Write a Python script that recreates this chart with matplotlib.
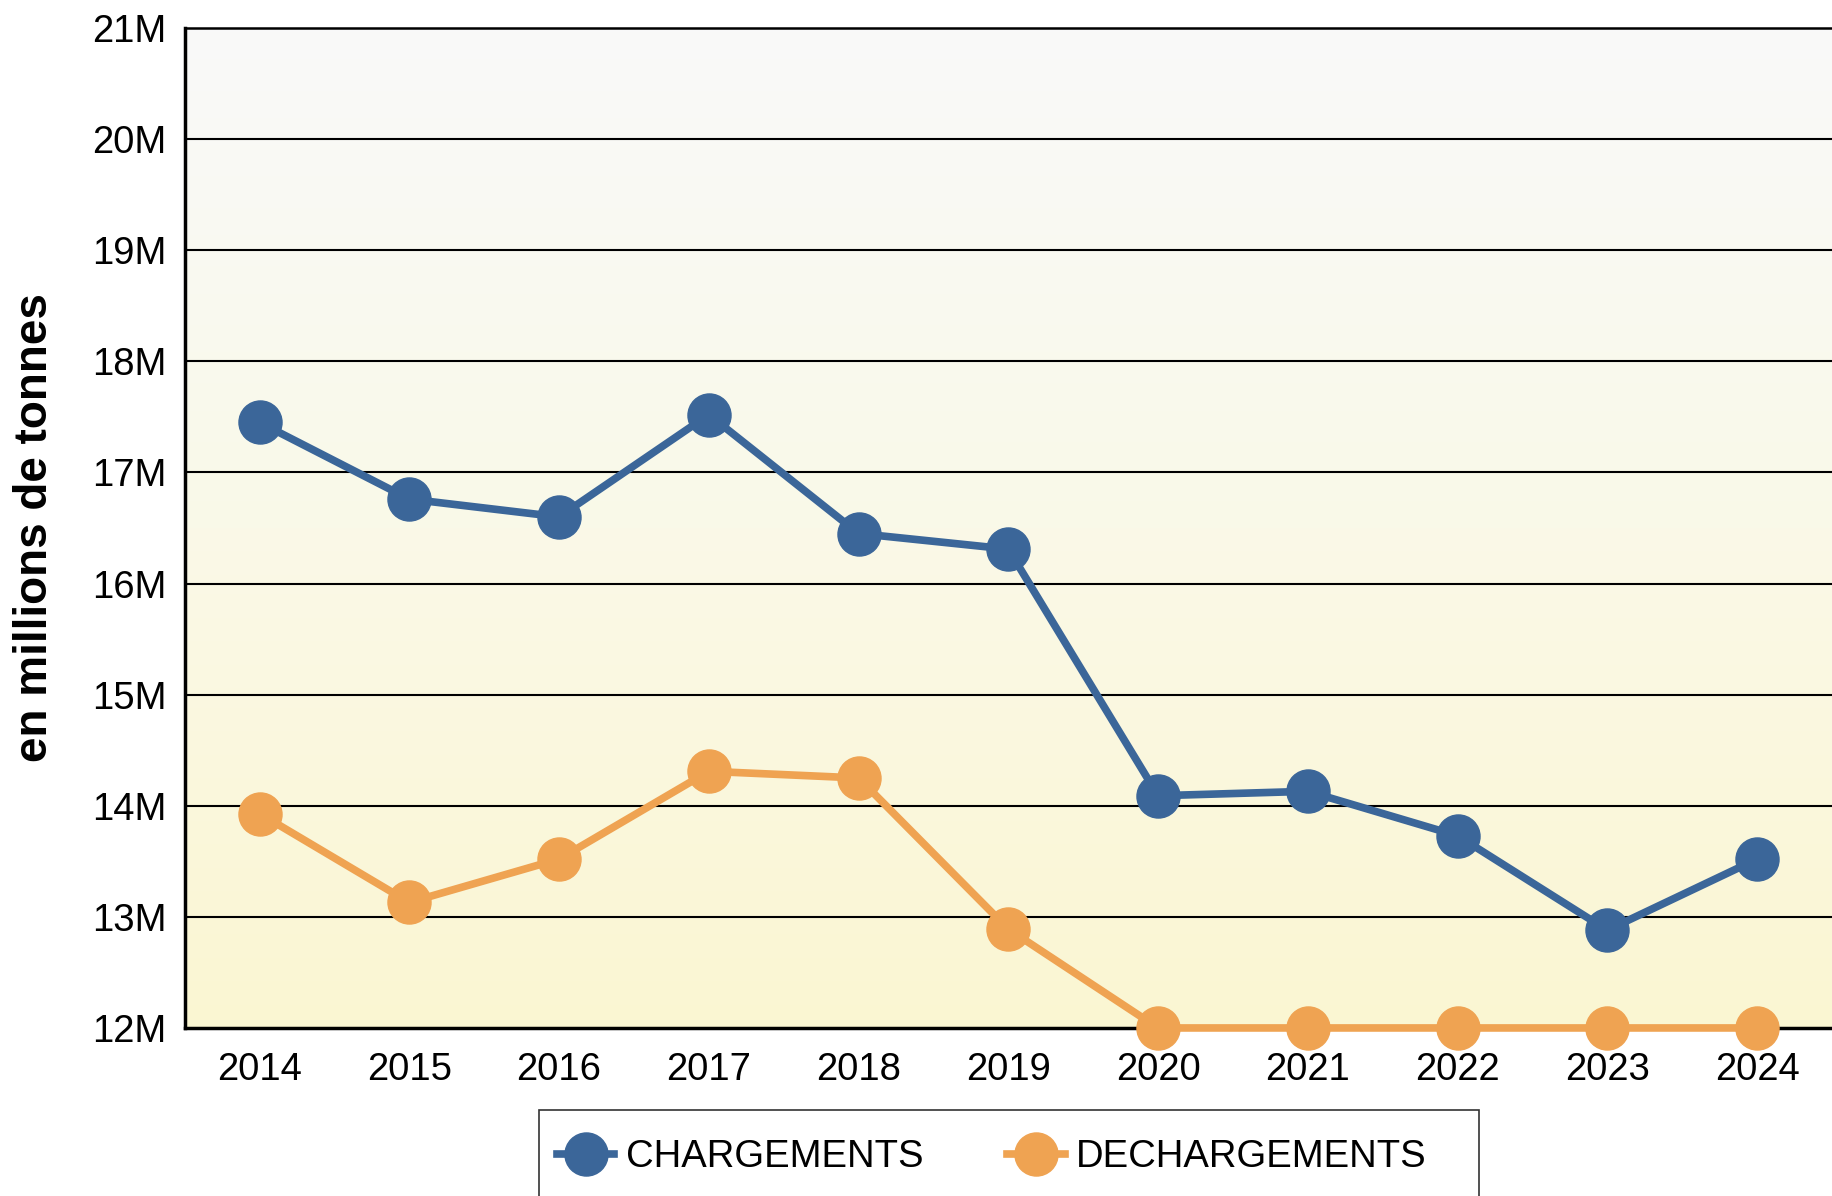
import numpy as np
import matplotlib
matplotlib.use("Agg")
import matplotlib.pyplot as plt
from matplotlib.patches import Rectangle
from matplotlib.colors import LinearSegmentedColormap

plt.rcParams['font.family'] = ['Liberation Sans', 'DejaVu Sans']

# data (millions de tonnes)
years = ['2014', '2015', '2016', '2017', '2018', '2019', '2020', '2021', '2022', '2023', '2024']
chargements = [17.45, 16.76, 16.60, 17.52, 16.45, 16.31, 14.09, 14.13, 13.73, 12.88, 13.52]
dechargements = [13.93, 13.13, 13.52, 14.31, 14.25, 12.89, 12.0, 12.0, 12.0, 12.0, 12.0]
y_ticks = [12, 13, 14, 15, 16, 17, 18, 19, 20, 21]

blue = '#3B6699'
orange = '#EFA352'

fig = plt.figure(figsize=(18.32, 11.96), dpi=100)
ax = fig.add_axes([0.1008, 0.1405, 0.8992, 0.8361])

x = np.arange(len(years))
ax.set_xlim(-0.5, len(years) - 0.5)
ax.set_ylim(12, 21)

# background gradient, grey on top to pale yellow at bottom
cmap = LinearSegmentedColormap.from_list('bg', ['#FAF6D2', '#FAF9E8', '#F9F9F9'])
grad = np.linspace(0, 1, 256).reshape(-1, 1)
ax.imshow(grad, cmap=cmap, aspect='auto', origin='lower',
          extent=[-0.5, len(years) - 0.5, 12, 21], zorder=0)

for v in y_ticks[1:-1]:
    ax.axhline(v, color='black', lw=1.5, zorder=1)

ax.plot(x, chargements, color=blue, lw=5.5, marker='o', markersize=31,
        label='CHARGEMENTS', zorder=3, clip_on=False)
ax.plot(x, dechargements, color=orange, lw=5.5, marker='o', markersize=31,
        label='DECHARGEMENTS', zorder=3, clip_on=False)

ax.set_xticks(x)
ax.set_xticklabels(years)
ax.set_yticks(y_ticks)
ax.set_yticklabels([f'{v}M' for v in y_ticks])
ax.tick_params(axis='x', length=0, pad=17, labelsize=27.5)
ax.tick_params(axis='y', length=0, pad=13, labelsize=27.5)

ax.spines['left'].set_linewidth(2.5)
ax.spines['bottom'].set_linewidth(2.5)
ax.spines['top'].set_linewidth(1.8)
ax.spines['right'].set_visible(False)
ax.spines['bottom'].set_zorder(2)

fig.text(0.019, 0.5586, 'en millions de tonnes', rotation=90, fontsize=33,
         fontweight='bold', ha='center', va='center')

# legend box, runs past the bottom edge
fig.patches.append(Rectangle((539 / 1832, -0.05), 940 / 1832, 0.05 + 86 / 1196,
                             transform=fig.transFigure, facecolor='white',
                             edgecolor='#333333', lw=1.2))
fig.legend(loc='center', bbox_to_anchor=(992 / 1832, 1 - 1157 / 1196), ncol=2,
           frameon=False, fontsize=27.5, handlelength=1.5, handletextpad=0.3,
           columnspacing=2.2, markerscale=1.0)

fig.savefig('out.png', dpi=100)
